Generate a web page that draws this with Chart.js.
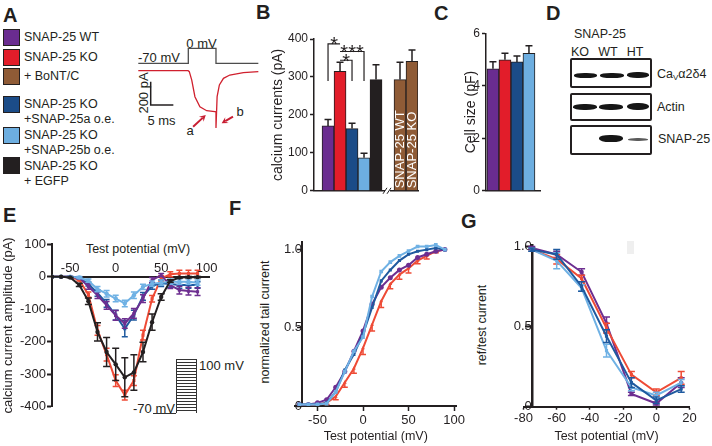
<!DOCTYPE html>
<html>
<head>
<meta charset="utf-8">
<script src="https://cdn.jsdelivr.net/npm/chart.js@4"></script>
<style>
html, body { margin: 0; padding: 0; background: #fff; }
#fig { position: relative; width: 712px; height: 446px; overflow: hidden; font-family: 'Liberation Sans', Arial, sans-serif; color: #231f20; }
#fig canvas { position: absolute; }
.c { position: absolute; transform: translate(-50%, -50%); white-space: nowrap; line-height: 1; }
.l { position: absolute; transform: translateY(-50%); white-space: nowrap; line-height: 1; }
.r { position: absolute; transform: translate(-50%, -50%) rotate(-90deg); white-space: nowrap; line-height: 1; }
.lab { position: absolute; font-weight: bold; font-size: 20px; line-height: 1; }
.sw { position: absolute; left: 3px; width: 17px; height: 17px; border: 1px solid #231f20; box-sizing: border-box; }
.leg { font-size: 12.5px; left: 24px; }
.box { position: absolute; left: 570px; width: 82px; border: 2px solid #231f20; box-sizing: border-box; border-radius: 2px; }
.band { position: absolute; background: #161616; border-radius: 45%; filter: blur(0.7px); }
</style>
</head>
<body>
<div id="fig">
  <!-- panel letters -->
  <div class="lab" style="left:3px;top:5px">A</div>
  <div class="lab" style="left:256px;top:1.5px">B</div>
  <div class="lab" style="left:434px;top:2.5px">C</div>
  <div class="lab" style="left:546px;top:2.5px">D</div>
  <div class="lab" style="left:3px;top:204.5px">E</div>
  <div class="lab" style="left:229px;top:198px">F</div>
  <div class="lab" style="left:461px;top:210.5px">G</div>

  <!-- A: legend -->
  <div class="sw" style="top:29px;background:#6a2c90"></div>
  <div class="sw" style="top:49px;background:#e21d2a"></div>
  <div class="sw" style="top:68px;background:#8f5b36"></div>
  <div class="sw" style="top:96px;background:#1b4c88"></div>
  <div class="sw" style="top:127px;background:#6daee0"></div>
  <div class="sw" style="top:157px;background:#231f20"></div>
  <div class="l leg" style="top:37px">SNAP-25 WT</div>
  <div class="l leg" style="top:57px">SNAP-25 KO</div>
  <div class="l leg" style="top:76px">+ BoNT/C</div>
  <div class="l leg" style="top:104px">SNAP-25 KO</div>
  <div class="l leg" style="top:119px">+SNAP-25a o.e.</div>
  <div class="l leg" style="top:135px">SNAP-25 KO</div>
  <div class="l leg" style="top:150px">+SNAP-25b o.e.</div>
  <div class="l leg" style="top:166px">SNAP-25 KO</div>
  <div class="l leg" style="top:181px">+ EGFP</div>

  <!-- A: trace labels -->
  <div class="c" style="left:201.5px;top:43px;font-size:13px">0 mV</div>
  <div class="l" style="left:138px;top:57px;font-size:13px">-70 mV</div>
  <div class="r" style="left:143px;top:93px;font-size:13px">200 pA</div>
  <div class="c" style="left:161.5px;top:120px;font-size:13px">5 ms</div>
  <div class="c" style="left:190px;top:130px;font-size:13px">a</div>
  <div class="c" style="left:240px;top:111px;font-size:13px">b</div>

  <!-- D: western blot -->
  <div class="c" style="left:600px;top:34px;font-size:12.5px">SNAP-25</div>
  <div class="c" style="left:580px;top:52px;font-size:12.5px">KO</div>
  <div class="c" style="left:608px;top:52px;font-size:12.5px">WT</div>
  <div class="c" style="left:635px;top:52px;font-size:12.5px">HT</div>
  <div class="box" style="top:58px;height:30px"></div>
  <div class="box" style="top:92.5px;height:28px"></div>
  <div class="box" style="top:125px;height:30px"></div>
  <div class="band" style="left:574px;top:73px;width:23px;height:4.5px"></div>
  <div class="band" style="left:600px;top:73px;width:24px;height:4.5px"></div>
  <div class="band" style="left:627px;top:71.5px;width:22px;height:6px"></div>
  <div class="band" style="left:573px;top:103.5px;width:24px;height:6px"></div>
  <div class="band" style="left:599px;top:104px;width:24px;height:5.5px"></div>
  <div class="band" style="left:627px;top:103px;width:22px;height:7px"></div>
  <div class="band" style="left:599px;top:135px;width:24px;height:6.5px"></div>
  <div class="band" style="left:628px;top:138px;width:20px;height:3px;opacity:0.7"></div>
  <div class="l" style="left:657px;top:75px;font-size:12.5px">Ca<sub style="font-size:8px;vertical-align:-2px">V</sub>α2δ4</div>
  <div class="l" style="left:657px;top:107px;font-size:12.5px">Actin</div>
  <div class="l" style="left:658px;top:139px;font-size:12.5px">SNAP-25</div>

  <!-- E: axis title on top, step protocol inset -->
  <div class="c" style="left:138px;top:249px;font-size:12.5px">Test potential (mV)</div>
  <div style="position:absolute;left:175.5px;top:359px;width:21.5px;height:54px;border-left:1px solid #333;border-right:1px solid #333;box-sizing:border-box;background:repeating-linear-gradient(to bottom,#333 0,#333 1px,transparent 1px,transparent 3px)"></div>
  <div style="position:absolute;left:153px;top:412.5px;width:23px;height:1px;background:#333"></div>
  <div class="l" style="left:199px;top:365px;font-size:13px">100 mV</div>
  <div class="l" style="left:133px;top:407.5px;font-size:13px">-70 mV</div>

  <!-- F, G: y axis titles -->
  <div class="r" style="left:264.5px;top:322px;font-size:12.5px">normalized tail current</div>
  <div class="r" style="left:481.5px;top:325px;font-size:12.5px">ref/test current</div>
  <div style="position:absolute;left:627px;top:241px;width:7px;height:13px;background:#efefef"></div>
</div>

<script>
// ---------- data ----------
const ink = '#231f20';

// A: example KO trace (ms, pA) and command step (ms, mV)
const traceTime = [0, 11.0, 11.26, 11.8, 12.5, 13.6, 15.1, 16.9, 17.15, 17.15, 17.4, 17.9, 18.8, 20.2, 23.2, 26.5];
const traceCurrent = [0, 0, -8, -80, -222, -308, -342, -350, -352, -490, -222, -122, -65, -37, -17, -8];
const stepTime = [0, 11.04, 11.04, 17.15, 17.15, 26.5];
const stepVolt = [-70, -70, 0, 0, -70, -70];

// B: calcium current amplitude (pA)
const bCategories = ['SNAP-25 WT', 'SNAP-25 KO', 'KO + SNAP-25a', 'KO + SNAP-25b', 'KO + EGFP', '', 'WT + BoNT/C', 'KO + BoNT/C'];
const bValues = [171, 315, 164, 87, 293, null, 293, 341];
const bErrors = [17, 24, 14, 12, 39, null, 46, 30];
const bColors = ['#6a2c90', '#e21d2a', '#1b4c88', '#6daee0', '#231f20', '#fff', '#8f5b36', '#8f5b36'];
const bBarText = ['', '', '', '', '', '', 'SNAP-25 WT', 'SNAP-25 KO'];
const bTicks = [0, 100, 200, 300, 400];
const bSig = [
  {from: 1, to: 0, level: 387, mark: '*'},
  {from: 1, to: 3, level: 367, mark: '***'},
  {from: 1, to: 2, level: 344, mark: '*'}
];
const bSigLegEnd = 289;

// C: cell size (pF)
const cCategories = ['SNAP-25 WT', 'SNAP-25 KO', 'KO + SNAP-25a', 'KO + SNAP-25b'];
const cValues = [4.65, 4.99, 4.91, 5.24];
const cErrors = [0.27, 0.25, 0.23, 0.29];
const cColors = ['#6a2c90', '#e21d2a', '#1b4c88', '#6daee0'];
const cTicks = [0, 2, 4, 6];

// E: IV curves (mV, pA)
const eVolt = [-70, -60, -50, -40, -30, -20, -10, 0, 10, 20, 30, 40, 50, 60, 70, 80, 90];
const eEgfp = [0, 0, -2, -25, -75, -170, -232, -270, -310, -295, -232, -140, -62, -13, -2, -1, -1];
const eEgfpErr = [0, 0, 1, 5, 10, 28, 45, 50, 60, 55, 30, 25, 10, 4, 2, 2, 2];
const eKO = [0, 0, 0, -10, -55, -165, -240, -320, -365, -320, -180, -68, -5, 8, 10, 10, 10];
const eKOErr = [0, 0, 1, 3, 8, 15, 20, 18, 15, 15, 15, 10, 8, 8, 10, 10, 10];
const eWT = [0, 0, 0, -3, -30, -57, -88, -119, -144, -113, -67, -10, 5, -26, -41, -44, -46];
const eWTErr = [0, 0, 1, 3, 8, 10, 12, 15, 15, 15, 12, 8, 5, 10, 12, 12, 12];
const eA = [0, 0, 0, -3, -22, -50, -82, -118, -160, -118, -60, -28, -20, -22, -25, -25, -25];
const eAErr = [0, 0, 1, 3, 6, 10, 12, 15, 25, 15, 12, 10, 10, 10, 10, 10, 10];
const eB = [0, 0, 0, -2, -12, -38, -52, -67, -82, -57, -31, -21, -18, -15, -15, -15, -18];
const eBErr = [0, 0, 1, 3, 5, 8, 10, 10, 10, 10, 8, 8, 8, 8, 8, 8, 8];
const eTicksX = [-50, 0, 50, 100];
const eTicksY = [100, 0, -100, -200, -300, -400];

// F: activation (normalized tail current)
const fVolt = [-70, -60, -50, -40, -30, -20, -10, 0, 10, 20, 30, 40, 50, 60, 70, 80, 90];
const fWT = [0.01, 0.01, 0.02, 0.04, 0.12, 0.22, 0.35, 0.48, 0.65, 0.76, 0.82, 0.87, 0.90, 0.95, 0.97, 0.99, 1.0];
const fKO = [0, 0, 0.01, 0.02, 0.06, 0.15, 0.24, 0.37, 0.52, 0.67, 0.78, 0.84, 0.88, 0.93, 0.96, 0.99, 1.0];
const fKOErr = [0, 0, 0, 0.01, 0.02, 0.03, 0.03, 0.04, 0.04, 0.04, 0.03, 0.03, 0.03, 0.02, 0.02, 0.01, 0];
const fA = [0.01, 0.01, 0.01, 0.02, 0.09, 0.23, 0.33, 0.46, 0.63, 0.80, 0.87, 0.93, 0.97, 0.99, 1.0, 1.01, 1.0];
const fB = [0.01, 0.01, 0.01, 0.015, 0.09, 0.22, 0.35, 0.44, 0.70, 0.86, 0.92, 0.96, 0.99, 1.02, 1.02, 1.03, 1.0];
const fTicksX = [-50, 0, 50, 100];
const fTicksY = [0, 0.5, 1.0];

// G: inactivation (ref/test current)
const gVolt = [-75, -60, -45, -30, -15, 0, 15];
const gWT = [0.99, 0.95, 0.84, 0.52, 0.08, 0.02, 0.15];
const gWTErr = [0.01, 0.02, 0.02, 0.04, 0.01, 0.01, 0.03];
const gKO = [0.98, 0.92, 0.80, 0.49, 0.20, 0.09, 0.18];
const gKOErr = [0.01, 0.03, 0.02, 0.03, 0.02, 0.02, 0.04];
const gA = [0.98, 0.95, 0.75, 0.44, 0.15, 0.04, 0.11];
const gAErr = [0.01, 0.03, 0.03, 0.04, 0.03, 0.02, 0.02];
const gB = [0.98, 0.91, 0.74, 0.35, 0.12, 0.07, 0.15];
const gBErr = [0.01, 0.05, 0.02, 0.04, 0.02, 0.02, 0.02];
const gTicksX = [-80, -60, -40, -20, 0, 20];
const gTicksY = [0, 0.5, 1.0];

const lineCol = {wt: '#6d2e90', ko: '#ee4b36', a: '#1f5a9f', b: '#6fb1e4', egfp: '#231f20'};

// ---------- helpers ----------
Chart.defaults.font.family = "'Liberation Sans', Arial, sans-serif";
Chart.defaults.font.size = 13;
Chart.defaults.color = ink;
Chart.defaults.animation = false;
Chart.defaults.responsive = false;
Chart.defaults.plugins.legend.display = false;
Chart.defaults.plugins.tooltip.enabled = false;

function place(left, top, w, h) {
    const c = document.createElement('canvas');
    c.width = w;
    c.height = h;
    c.style.left = left + 'px';
    c.style.top = top + 'px';
    document.getElementById('fig').appendChild(c);
    return c;
}
function fixed(values) {
    return function(scale) { scale.ticks = values.map(v => ({value: v})); };
}
function xy(xs, ys) {
    return xs.map((x, i) => ({x: x, y: ys[i]}));
}
function oneDecimal(v) {
    return v === 0 ? '0' : v.toFixed(1);
}

// error bars drawn under each dataset
const errorBars = {
    id: 'errorBars',
    beforeDatasetDraw(chart, args) {
        const ds = chart.data.datasets[args.index];
        if (!ds.errors) return;
        const ctx = chart.ctx;
        const yScale = chart.scales[args.meta.yAxisID];
        const cap = ds.capWidth || 6;
        ctx.save();
        ctx.strokeStyle = ds.errorColor || ds.borderColor;
        ctx.lineWidth = ds.errorWidth || 1.5;
        args.meta.data.forEach((el, i) => {
            const e = ds.errors[i];
            const v = ds.data[i].y;
            if (!e || v === null) return;
            const mid = yScale.getPixelForValue(v);
            const hi = yScale.getPixelForValue(v + e);
            const lo = yScale.getPixelForValue(v - e);
            const ends = ds.errorDir === 'up' ? [hi] : ds.errorDir === 'down' ? [lo] : [hi, lo];
            ctx.beginPath();
            ends.forEach(p => {
                ctx.moveTo(el.x, mid);
                ctx.lineTo(el.x, p);
                ctx.moveTo(el.x - cap / 2, p);
                ctx.lineTo(el.x + cap / 2, p);
            });
            ctx.stroke();
        });
        ctx.restore();
    }
};

function arrow(ctx, x1, y1, x2, y2) {
    const a = Math.atan2(y2 - y1, x2 - x1), h = 7;
    ctx.beginPath();
    ctx.moveTo(x1, y1);
    ctx.lineTo(x2 - Math.cos(a) * h * 0.6, y2 - Math.sin(a) * h * 0.6);
    ctx.stroke();
    ctx.beginPath();
    ctx.moveTo(x2, y2);
    ctx.lineTo(x2 - h * Math.cos(a - 0.5), y2 - h * Math.sin(a - 0.5));
    ctx.lineTo(x2 - h * 0.55 * Math.cos(a), y2 - h * 0.55 * Math.sin(a));
    ctx.lineTo(x2 - h * Math.cos(a + 0.5), y2 - h * Math.sin(a + 0.5));
    ctx.closePath();
    ctx.fill();
}

// scale bar and arrows a / b on the trace
const traceExtras = {
    id: 'traceExtras',
    afterDatasetsDraw(chart) {
        const {ctx, scales: {x, y}} = chart;
        ctx.save();
        ctx.strokeStyle = ink;
        ctx.lineWidth = 1.5;
        ctx.beginPath();
        ctx.moveTo(x.getPixelForValue(2.74), y.getPixelForValue(-94));
        ctx.lineTo(x.getPixelForValue(2.74), y.getPixelForValue(-294));
        ctx.lineTo(x.getPixelForValue(7.74), y.getPixelForValue(-294));
        ctx.stroke();
        ctx.strokeStyle = '#c81e32';
        ctx.fillStyle = '#c81e32';
        ctx.lineWidth = 2;
        arrow(ctx, x.getPixelForValue(12.1), y.getPixelForValue(-479), x.getPixelForValue(14.9), y.getPixelForValue(-379));
        arrow(ctx, x.getPixelForValue(20.9), y.getPixelForValue(-393), x.getPixelForValue(18.4), y.getPixelForValue(-450));
        ctx.restore();
    }
};

// significance brackets, axis break and labels inside the BoNT/C bars
const barExtras = {
    id: 'barExtras',
    afterDatasetsDraw(chart) {
        const {ctx, scales: {x, y}} = chart;
        const meta = chart.getDatasetMeta(0);
        ctx.save();
        ctx.strokeStyle = ink;
        ctx.fillStyle = ink;
        ctx.lineWidth = 1.2;
        ctx.font = "20px 'Liberation Sans', Arial, sans-serif";
        ctx.textAlign = 'center';
        ctx.textBaseline = 'alphabetic';
        bSig.forEach(s => {
            const x1 = x.getPixelForValue(s.from), x2 = x.getPixelForValue(s.to);
            const yTop = y.getPixelForValue(s.level), yLeg = y.getPixelForValue(bSigLegEnd);
            ctx.beginPath();
            ctx.moveTo(x1, yTop);
            ctx.lineTo(x2, yTop);
            ctx.lineTo(x2, yLeg);
            ctx.stroke();
            ctx.fillText(s.mark, (x1 + x2) / 2, yTop + 7.5);
        });

        const bx = x.getPixelForValue(bCategories.indexOf('')), by = y.getPixelForValue(0);
        ctx.fillStyle = '#fff';
        ctx.fillRect(bx - 3, by - 3, 5, 6);
        ctx.lineWidth = 1;
        ctx.beginPath();
        ctx.moveTo(bx - 5, by + 3); ctx.lineTo(bx - 1, by - 3);
        ctx.moveTo(bx - 1, by + 3); ctx.lineTo(bx + 3, by - 3);
        ctx.stroke();

        ctx.fillStyle = '#fff';
        ctx.font = "13px 'Liberation Sans', Arial, sans-serif";
        ctx.textAlign = 'left';
        ctx.textBaseline = 'middle';
        bBarText.forEach((t, i) => {
            if (!t) return;
            const el = meta.data[i];
            ctx.save();
            ctx.translate(el.x + 0.5, el.base - 2);
            ctx.rotate(-Math.PI / 2);
            ctx.fillText(t, 0, 0);
            ctx.restore();
        });
        ctx.restore();
    }
};

function lineSet(data, color, style, extra) {
    return Object.assign({
        data: data, borderColor: color, backgroundColor: color, borderWidth: 2,
        pointRadius: 2.2, pointStyle: style, pointBorderWidth: 0, tension: 0
    }, extra || {});
}

// ---------- A: example trace ----------
new Chart(place(130, 35, 135, 100), {
    type: 'line',
    data: {
        datasets: [
            {data: xy(traceTime, traceCurrent), yAxisID: 'y', borderColor: '#d0202e', borderWidth: 1.3, pointRadius: 0},
            {data: xy(stepTime, stepVolt), yAxisID: 'v', borderColor: '#4d4d4d', borderWidth: 1.3, pointRadius: 0}
        ]
    },
    options: {
        layout: {padding: 0},
        scales: {
            x: {type: 'linear', display: false, min: -1.83, max: 27.97},
            y: {type: 'linear', display: false, min: -549.6, max: 305.1},
            v: {type: 'linear', axis: 'y', position: 'left', display: false, min: -404.6, max: 62.1}
        }
    },
    plugins: [traceExtras]
});

// ---------- B: calcium currents ----------
new Chart(place(262, 20, 165, 180), {
    type: 'bar',
    data: {
        datasets: [{
            data: xy(bCategories.map((c, i) => i), bValues),
            backgroundColor: bColors, borderColor: ink, borderWidth: 1,
            barPercentage: 1, categoryPercentage: 1,
            errors: bErrors, errorDir: 'up', capWidth: 7, errorColor: ink, errorWidth: 1.5
        }]
    },
    options: {
        layout: {padding: {left: 0, right: 9, top: 19, bottom: 7.7}},
        scales: {
            x: {type: 'linear', offset: false, min: -1.17, max: 7.5, ticks: {display: false}, grid: {display: false, offset: false},
                border: {color: ink, width: 1.5}, afterFit: s => { s.height = 0; }},
            y: {min: 0, max: 400, afterBuildTicks: fixed(bTicks), afterFit: s => { s.width = 52; },
                grid: {drawOnChartArea: false, tickLength: 4, tickColor: ink, tickWidth: 1.5},
                border: {color: ink, width: 1.5},
                ticks: {padding: 2, font: {size: 12}, color: ink},
                title: {display: true, text: 'calcium currents (pA)', font: {size: 14}, color: ink, padding: {top: 8, bottom: 0}}}
        }
    },
    plugins: [errorBars, barExtras]
});

// ---------- C: cell size ----------
new Chart(place(455, 20, 90, 180), {
    type: 'bar',
    data: {
        datasets: [{
            data: xy(cCategories.map((c, i) => i), cValues),
            backgroundColor: cColors, borderColor: ink, borderWidth: 1,
            barPercentage: 1, categoryPercentage: 1,
            errors: cErrors, errorDir: 'up', capWidth: 7, errorColor: ink, errorWidth: 1.5
        }]
    },
    options: {
        layout: {padding: {left: 0, right: 5, top: 13.3, bottom: 8.3}},
        scales: {
            x: {type: 'linear', offset: false, min: -0.58, max: 3.92, ticks: {display: false}, grid: {display: false, offset: false},
                border: {color: ink, width: 1.5}, afterFit: s => { s.height = 0; }},
            y: {min: 0, max: 6, afterBuildTicks: fixed(cTicks), afterFit: s => { s.width = 31; },
                grid: {drawOnChartArea: false, tickLength: 4, tickColor: ink, tickWidth: 1.5},
                border: {color: ink, width: 1.5},
                ticks: {padding: 2, font: {size: 12}, color: ink},
                title: {display: true, text: 'Cell size (pF)', font: {size: 14}, color: ink, padding: {top: 8, bottom: 0}}}
        }
    },
    plugins: [errorBars]
});

// ---------- E: I-V ----------
new Chart(place(0, 230, 230, 186), {
    type: 'line',
    data: {
        datasets: [
            lineSet(xy(eVolt, eEgfp), lineCol.egfp, 'circle', {errors: eEgfpErr, errorDir: 'both', capWidth: 7}),
            lineSet(xy(eVolt, eB), lineCol.b, 'circle', {errors: eBErr, errorDir: 'both', capWidth: 6}),
            lineSet(xy(eVolt, eWT), lineCol.wt, 'rect', {errors: eWTErr, errorDir: 'both', capWidth: 6}),
            lineSet(xy(eVolt, eA), lineCol.a, 'rect', {errors: eAErr, errorDir: 'both', capWidth: 6}),
            lineSet(xy(eVolt, eKO), lineCol.ko, 'rect', {errors: eKOErr, errorDir: 'both', capWidth: 6})
        ]
    },
    options: {
        layout: {padding: {left: 0, top: 14.4, right: 20.6, bottom: 9.5}},
        scales: {
            x: {type: 'linear', min: -70, max: 103, position: {y: 0}, afterBuildTicks: fixed(eTicksX),
                grid: {display: false, drawTicks: false}, border: {color: ink, width: 2},
                ticks: {padding: -16.2, font: {size: 13}, color: ink, maxRotation: 0, autoSkip: false}},
            y: {min: -400, max: 100, afterBuildTicks: fixed(eTicksY), afterFit: s => { s.width = 52; },
                grid: {drawOnChartArea: false, tickLength: 5, tickColor: ink, tickWidth: 2},
                border: {color: ink, width: 2},
                ticks: {padding: 1, font: {size: 13}, color: ink},
                title: {display: true, text: 'calcium current amplitude (pA)', font: {size: 13}, color: ink, padding: {top: 0.2, bottom: 0}}}
        }
    },
    plugins: [errorBars]
});

// ---------- F: activation ----------
new Chart(place(255, 232, 215, 214), {
    type: 'line',
    data: {
        datasets: [
            lineSet(xy(fVolt, fB), lineCol.b, 'rect', {pointRadius: 2.6}),
            lineSet(xy(fVolt, fA), lineCol.a, 'rect'),
            lineSet(xy(fVolt, fWT), lineCol.wt, 'circle', {pointRadius: 2.5}),
            lineSet(xy(fVolt, fKO), lineCol.ko, 'triangle', {errors: fKOErr, errorDir: 'down', capWidth: 6})
        ]
    },
    options: {
        layout: {padding: {left: 39.75, right: 13.25, top: 8.4, bottom: 0}},
        scales: {
            x: {type: 'linear', min: -75, max: 103, afterBuildTicks: fixed(fTicksX), afterFit: s => { s.height = 40; },
                grid: {drawOnChartArea: false, tickLength: 5, tickColor: ink, tickWidth: 1.5},
                border: {color: ink, width: 2},
                ticks: {padding: 2, font: {size: 13}, color: ink, maxRotation: 0, autoSkip: false},
                title: {display: true, text: 'Test potential (mV)', font: {size: 12.5}, color: ink, padding: {top: 0, bottom: 1.5}}},
            y: {min: 0, max: 1.05, position: {x: -67}, afterBuildTicks: fixed(fTicksY),
                grid: {drawOnChartArea: false, tickLength: 4, tickColor: ink, tickWidth: 1.5},
                border: {color: ink, width: 2},
                ticks: {padding: 2, font: {size: 13}, color: ink, callback: oneDecimal}}
        }
    },
    plugins: [errorBars]
});

// ---------- G: inactivation ----------
new Chart(place(470, 232, 242, 214), {
    type: 'line',
    data: {
        datasets: [
            lineSet(xy(gVolt, gA), lineCol.a, 'rect', {errors: gAErr, errorDir: 'both', capWidth: 7}),
            lineSet(xy(gVolt, gB), lineCol.b, 'rect', {errors: gBErr, errorDir: 'both', capWidth: 7}),
            lineSet(xy(gVolt, gKO), lineCol.ko, 'rect', {errors: gKOErr, errorDir: 'both', capWidth: 7}),
            lineSet(xy(gVolt, gWT), lineCol.wt, 'circle', {errors: gWTErr, errorDir: 'both', capWidth: 7})
        ]
    },
    options: {
        layout: {padding: {left: 53.5, right: 22.5, top: 8, bottom: 0}},
        scales: {
            x: {type: 'linear', min: -80, max: 20, afterBuildTicks: fixed(gTicksX), afterFit: s => { s.height = 39.3; },
                grid: {drawOnChartArea: false, tickLength: 3, tickColor: ink, tickWidth: 1.5},
                border: {color: ink, width: 2},
                ticks: {padding: 1, font: {size: 13}, color: ink, maxRotation: 0, autoSkip: false},
                title: {display: true, text: 'Test potential (mV)', font: {size: 12.5}, color: ink, padding: {top: 0, bottom: 1.5}}},
            y: {min: 0, max: 1.01, position: {x: -75}, afterBuildTicks: fixed(gTicksY),
                grid: {drawOnChartArea: false, tickLength: 6, tickColor: ink, tickWidth: 2},
                border: {color: ink, width: 2.5},
                ticks: {padding: 5, font: {size: 13}, color: ink, callback: oneDecimal}}
        }
    },
    plugins: [errorBars]
});
</script>
</body>
</html>
